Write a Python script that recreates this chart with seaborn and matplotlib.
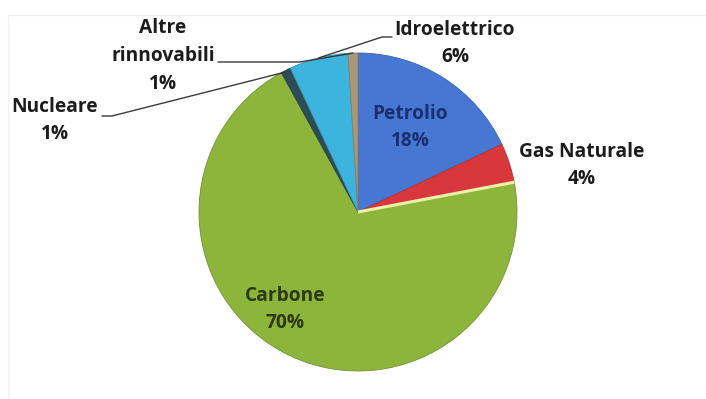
import numpy as np
import matplotlib
matplotlib.use("Agg")
import matplotlib.pyplot as plt
import seaborn as sns

# Energy sources, clockwise from 12 o'clock
sources = ["Petrolio", "Gas Naturale", "Carbone", "Nucleare", "Idroelettrico", "Altre\nrinnovabili"]
shares = [18, 4, 70, 1, 6, 1]
colors = ["#4677d2", "#d8383c", "#8db53c", "#2c4d55", "#3db4de", "#a8987a"]

sns.set_theme(style="white")
plt.rcParams["font.family"] = ["Open Sans", "DejaVu Sans"]

W, H, DPI = 706, 399, 100
fig = plt.figure(figsize=(W / DPI, H / DPI), dpi=DPI)
ax = fig.add_axes([0, 0, 1, 1])

# pixel -> data helpers (1 data unit = R_PX pixels, pie centred at CX, CY)
CX, CY, R_PX = 358, 212, 159
def px(x, y):
    return ((x - CX) / R_PX, (CY - y) / R_PX)

wedges, _ = ax.pie(
    shares, colors=colors, startangle=90, counterclock=False, radius=1.0,
    wedgeprops=dict(linewidth=0.6, edgecolor="#55702a"),
)
for w, c in zip(wedges, colors):
    w.set_edgecolor(sns.dark_palette(c, n_colors=5)[3])

# pie() resets limits and aspect, so fix them afterwards
ax.set_xlim(-CX / R_PX, (W - CX) / R_PX)
ax.set_ylim(-(H - CY) / R_PX, CY / R_PX)
ax.set_aspect("auto")
ax.set_position([0, 0, 1, 1])
ax.axis("off")

# light highlight on the edge between gas and coal
gw = wedges[1]
ang = np.deg2rad(gw.theta1)
ax.plot([0, np.cos(ang)], [0, np.sin(ang)], color="#eef2a8", lw=2.2, solid_capstyle="butt")

def mid_point(w, r=1.0):
    a = np.deg2rad((w.theta1 + w.theta2) / 2)
    return r * np.cos(a), r * np.sin(a)

fs = 13.8
txt = dict(ha="center", va="center", fontsize=fs, fontweight="bold")

def label(name, pct, x, y, color="#1c1c1c", gap=27):
    lines = name.split("\n")
    n = len(lines)
    for i, ln in enumerate(lines):
        ax.text(*px(x, y + i * gap), ln, color=color, **txt)
    ax.text(*px(x, y + n * gap), f"{pct}%", color=color, **txt)

label("Petrolio", shares[0], 410, 114, color="#1b2f70")
label("Gas Naturale", shares[1], 582, 152)
label("Carbone", shares[2], 285, 296, color="#2b3a12")
label("Nucleare", shares[3], 55, 107)
label("Idroelettrico", shares[4], 455, 30)
label("Altre\nrinnovabili", shares[5], 163, 28, gap=28)

# leader lines
line_kw = dict(color="#3a3a3a", lw=1.0)
nx, ny = mid_point(wedges[3], 0.99)
ax.plot([px(102, 116)[0], px(112, 116)[0], nx], [px(102, 116)[1], px(112, 116)[1], ny], **line_kw)
ax_, ay_ = mid_point(wedges[5], 1.0)
ax.plot([px(218, 62)[0], px(300, 62)[0], ax_], [px(218, 62)[1], px(300, 62)[1], ay_], **line_kw)
ix, iy = mid_point(wedges[4], 1.0)
ax.plot([px(392, 37)[0], px(382, 37)[0], ix], [px(392, 37)[1], px(382, 37)[1], iy], **line_kw)

# faint chart-area border
ax.plot([px(8, 15)[0], px(706, 15)[0]], [px(8, 15)[1], px(706, 15)[1]], color="#eeeeee", lw=1.0)
ax.plot([px(8, 15)[0], px(8, 399)[0]], [px(8, 15)[1], px(8, 399)[1]], color="#f2f2f2", lw=1.0)

fig.savefig("out.png", dpi=DPI, facecolor="white")
